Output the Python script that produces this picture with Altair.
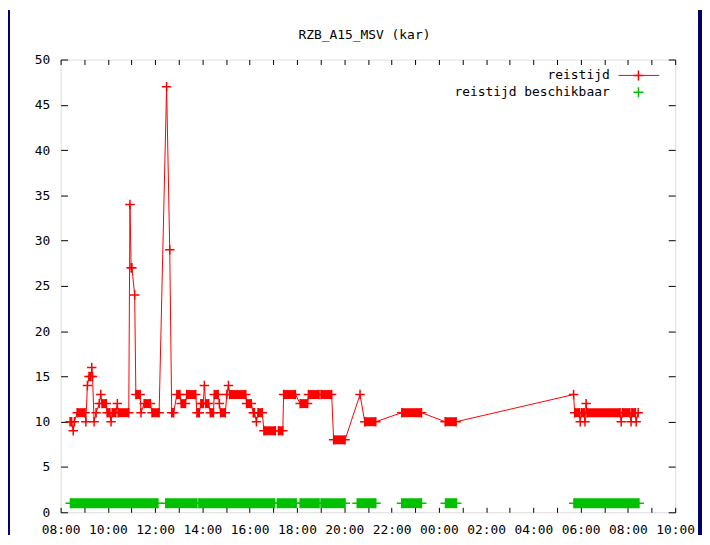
import altair as alt
import pandas as pd

# ---------------- data ----------------
title_text = "RZB_A15_MSV (kar)"
legend_labels = ["reistijd", "reistijd beschikbaar"]

# red series "reistijd": runs of equal value (start, end, value); "+" = next day
red_start = ["08:24", "08:32", "08:35", "08:42", "09:04", "09:08", "09:12", "09:19",
             "09:21", "09:25", "09:30", "09:38", "09:42", "09:45", "09:58", "10:08",
             "10:11", "10:24", "10:26", "10:56", "10:59", "11:08", "11:11", "11:24",
             "11:32", "11:52", "12:29", "12:37", "12:42", "12:55", "13:06", "13:20",
             "13:46", "13:56", "14:05", "14:08", "14:20", "14:30", "14:43", "14:46",
             "15:02", "15:06", "15:09", "15:52", "16:09", "16:17", "16:21", "16:36",
             "17:13", "17:26", "18:08", "18:29", "19:01", "19:33", "20:40", "20:52",
             "22:26", "+00:16", "+05:42", "+05:45", "+05:59", "+06:02", "+06:11", "+06:14",
             "+06:16", "+07:43", "+07:46", "+08:08", "+08:10", "+08:21", "+08:26"]
red_end = ["08:28", "08:32", "08:35", "09:02", "09:04", "09:08", "09:17", "09:19",
           "09:21", "09:25", "09:30", "09:38", "09:42", "09:56", "10:05", "10:08",
           "10:20", "10:24", "10:53", "10:56", "11:01", "11:08", "11:22", "11:24",
           "11:48", "12:10", "12:29", "12:37", "12:47", "13:03", "13:17", "13:43",
           "13:52", "14:02", "14:05", "14:16", "14:28", "14:40", "14:43", "14:58",
           "15:02", "15:06", "15:50", "16:04", "16:12", "16:17", "16:32", "17:05",
           "17:24", "17:56", "18:27", "18:56", "19:28", "20:02", "20:40", "21:20",
           "23:16", "+00:44", "+05:42", "+05:57", "+05:59", "+06:09", "+06:11", "+06:14",
           "+07:40", "+07:43", "+08:05", "+08:08", "+08:19", "+08:21", "+08:26"]
red_value = [10, 9, 10, 11, 10, 14, 15, 16,
             15, 10, 11, 12, 13, 12, 11, 10,
             11, 12, 11, 34, 27, 24, 13, 11,
             12, 11, 47, 29, 11, 13, 12, 13,
             11, 12, 14, 12, 11, 13, 12, 11,
             13, 14, 13, 12, 11, 10, 11, 9,
             9, 13, 12, 13, 13, 8, 13, 10,
             11, 10, 13, 11, 10, 11, 10, 12,
             11, 10, 11, 10, 11, 10, 11]

# green series "reistijd beschikbaar": periods with data, drawn at value 1
green_start = ["08:25", "12:27", "13:51", "17:10", "18:08", "19:01", "20:33", "22:26", "+00:17", "+05:43"]
green_end = ["12:07", "13:46", "17:03", "17:58", "18:56", "20:02", "21:20", "23:16", "+00:45", "+08:28"]
green_value = 1

y_ticks = [0, 5, 10, 15, 20, 25, 30, 35, 40, 45, 50]
x_ticks = list(range(8, 35))   # hourly ticks, 08:00 .. 10:00 next day


def to_hours(s):
    nxt = s.startswith("+")
    h, m = s.lstrip("+").split(":")
    return int(h) + int(m) / 60 + (24 if nxt else 0)


pts = []
blocks = []
for s, e, v in zip(red_start, red_end, red_value):
    t0, t1 = to_hours(s), to_hours(e)
    pts.append({"t": t0, "v": v})
    if t1 > t0:
        pts.append({"t": t1, "v": v})
        blocks.append({"t0": t0, "t1": t1, "v": v})
red_df = pd.DataFrame(pts)
red_blocks = pd.DataFrame(blocks)

green_df = pd.DataFrame({"t0": [to_hours(s) for s in green_start],
                         "t1": [to_hours(s) for s in green_end],
                         "v": [green_value] * len(green_start)})
green_pts = pd.DataFrame({"t": list(green_df["t0"]) + list(green_df["t1"]),
                          "v": [green_value] * (2 * len(green_df))})

# ---------------- styling ----------------
RED = "#ff0000"
GREEN = "#00c000"
NAVY = "#000066"
FONT = "DejaVu Sans Mono"
PLUS = "M-1,0L1,0M0,-1L0,1"

W, H = 619, 456
PAD_L, PAD_T, PAD_R, PAD_B = 53, 50, 27, 23

xs = alt.Scale(domain=[8, 34], nice=False, zero=False)
ys = alt.Scale(domain=[0, 50], nice=False, zero=False)

label_expr = ("datum.value % 2 == 0 ? pad(toString(datum.value % 24), 2, '0', 'left') + ':00' : ''")

common = dict(domain=False, grid=False, title=None, tickColor="black", tickWidth=1,
              labelColor="black", labelFont=FONT, labelFontSize=13,
              labelFlush=False, labelOverlap=False)

x_bottom = alt.Axis(orient="bottom", values=x_ticks, labelExpr=label_expr, offset=-5,
                    tickSize=5, labelPadding=11, **common)
y_left = alt.Axis(orient="left", values=y_ticks, offset=-7, tickSize=7, labelPadding=11, **common)
x_top = alt.Axis(orient="top", values=x_ticks, offset=-5, tickSize=5, labels=False, **common)
y_right = alt.Axis(orient="right", values=y_ticks, offset=-7, tickSize=7, labels=False, **common)

line = alt.Chart(red_df).mark_line(color=RED, strokeWidth=1).encode(
    x=alt.X("t:Q", scale=xs, axis=x_bottom),
    y=alt.Y("v:Q", scale=ys, axis=y_left),
)
mirror = alt.Chart(red_df).mark_point(opacity=0).encode(
    x=alt.X("t:Q", scale=xs, axis=x_top),
    y=alt.Y("v:Q", scale=ys, axis=y_right),
)
red_rule = alt.Chart(red_blocks).mark_rule(color=RED, strokeWidth=9).encode(
    x=alt.X("t0:Q", scale=xs, axis=None), x2="t1:Q",
    y=alt.Y("v:Q", scale=ys, axis=None),
)
red_plus = alt.Chart(red_df).mark_point(shape=PLUS, filled=False, size=90, strokeWidth=1.5,
                                        color=RED, opacity=1).encode(
    x=alt.X("t:Q", scale=xs, axis=None),
    y=alt.Y("v:Q", scale=ys, axis=None),
)
green_rule = alt.Chart(green_df).mark_rule(color=GREEN, strokeWidth=10).encode(
    x=alt.X("t0:Q", scale=xs, axis=None), x2="t1:Q",
    y=alt.Y("v:Q", scale=ys, axis=None),
)
green_plus = alt.Chart(green_pts).mark_point(shape=PLUS, filled=False, size=100, strokeWidth=1.5,
                                             color=GREEN, opacity=1).encode(
    x=alt.X("t:Q", scale=xs, axis=None),
    y=alt.Y("v:Q", scale=ys, axis=None),
)

# title as a text mark above the plot
title_df = pd.DataFrame({"label": [title_text]})
title_mark = alt.Chart(title_df).mark_text(
    align="center", baseline="middle", font=FONT, fontSize=13, color="black").encode(
    x=alt.value(306), y=alt.value(-25), text="label:N")

# legend (gnuplot style key, top right inside the plot)
leg_df = pd.DataFrame({"label": legend_labels})
leg1_text = alt.Chart(leg_df.iloc[[0]]).mark_text(
    align="right", baseline="middle", font=FONT, fontSize=13, color="black").encode(
    x=alt.value(553), y=alt.value(16), text="label:N")
leg2_text = alt.Chart(leg_df.iloc[[1]]).mark_text(
    align="right", baseline="middle", font=FONT, fontSize=13, color="black").encode(
    x=alt.value(553), y=alt.value(33), text="label:N")
leg1_line = alt.Chart(leg_df.iloc[[0]]).mark_rule(color=RED, strokeWidth=1).encode(
    x=alt.value(562), x2=alt.value(603), y=alt.value(16))
leg1_plus = alt.Chart(leg_df.iloc[[0]]).mark_point(
    shape=PLUS, filled=False, size=100, strokeWidth=1.5, color=RED, opacity=1).encode(
    x=alt.value(582), y=alt.value(16))
leg2_plus = alt.Chart(leg_df.iloc[[1]]).mark_point(
    shape=PLUS, filled=False, size=100, strokeWidth=1.5, color=GREEN, opacity=1).encode(
    x=alt.value(582), y=alt.value(33))

# navy window frame strips
frame_df = pd.DataFrame({"k": [0]})
navy_left = alt.Chart(frame_df).mark_rect(color=NAVY).encode(
    x=alt.value(-PAD_L), x2=alt.value(-PAD_L + 2), y=alt.value(-PAD_T), y2=alt.value(H + PAD_B))
navy_right = alt.Chart(frame_df).mark_rect(color=NAVY).encode(
    x=alt.value(W + 23), x2=alt.value(W + 27), y=alt.value(-PAD_T), y2=alt.value(H + PAD_B))

chart = alt.layer(
    navy_left, navy_right,
    green_rule, green_plus,
    line, red_rule, red_plus,
    mirror,
    title_mark,
    leg1_text, leg2_text, leg1_line, leg1_plus, leg2_plus,
).resolve_axis(
    x="independent", y="independent"
).properties(
    width=W, height=H,
    padding={"left": PAD_L, "top": PAD_T, "right": PAD_R, "bottom": PAD_B},
    autosize=alt.AutoSizeParams(type="none"),
).configure_view(
    stroke="#1a1a1a", strokeWidth=1
).configure(
    background="white"
)

chart.save("out.html", embed_options={"renderer": "svg", "actions": False})
